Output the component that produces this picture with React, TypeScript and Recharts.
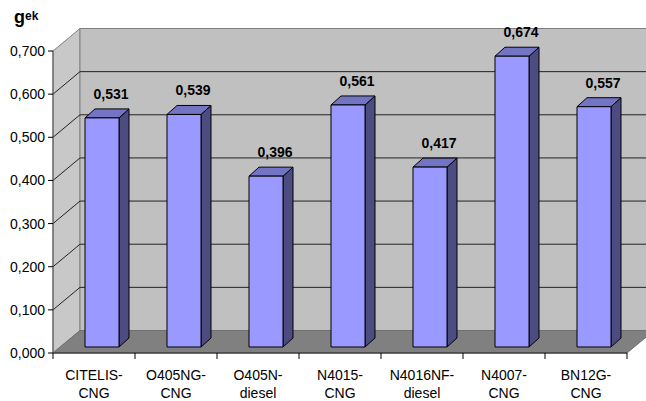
import React from 'react'
import { BarChart, Bar, XAxis, YAxis, LabelList } from 'recharts'

const categories = [
  'CITELIS-CNG',
  'O405NG-CNG',
  'O405N-diesel',
  'N4015-CNG',
  'N4016NF-diesel',
  'N4007-CNG',
  'BN12G-CNG',
]
const gekValues = [0.531, 0.539, 0.396, 0.561, 0.417, 0.674, 0.557]
const yTicks = [0, 0.1, 0.2, 0.3, 0.4, 0.5, 0.6, 0.7]

const data = categories.map((name, i) => ({ name, gek: gekValues[i] }))

// layout of the front plane of the 3d box
const W = 646
const H = 401
const LEFT = 53
const RIGHT = 627
const TOP = 51
const BOTTOM = 353
const DX = 27
const DY = -22.5
const BAND = (RIGHT - LEFT) / categories.length

// bars sit a bit into the box
const BAR_DX = 8
const BAR_DY = -6
const BAR_DEPTH_X = 10
const BAR_DEPTH_Y = -9

const FONT = '"Liberation Sans", Arial, sans-serif'
const fmt = (v: number) => v.toFixed(3).replace('.', ',')
const yAt = (v: number) => BOTTOM - (v / 0.7) * (BOTTOM - TOP)

function Box() {
  const grid = yTicks.filter((t) => t > 0 && t < 0.7)
  return (
    <svg width={W} height={H} style={{ position: 'absolute', left: 0, top: 0 }}>
      <polygon
        points={`${LEFT},${BOTTOM} ${LEFT},${TOP} ${LEFT + DX},${TOP + DY} ${LEFT + DX},${BOTTOM + DY}`}
        fill="#c8c8c8"
        stroke="#808080"
      />
      <rect
        x={LEFT + DX}
        y={TOP + DY}
        width={RIGHT - LEFT + 10}
        height={BOTTOM - TOP}
        fill="#c0c0c0"
        stroke="#808080"
      />
      {grid.map((t) => (
        <g key={t}>
          <line x1={LEFT + DX} x2={W} y1={yAt(t) + DY} y2={yAt(t) + DY} stroke="#222" />
          <line x1={LEFT} x2={LEFT + DX} y1={yAt(t)} y2={yAt(t) + DY} stroke="#222" />
        </g>
      ))}
      <polygon
        points={`${LEFT},${BOTTOM} ${RIGHT},${BOTTOM} ${RIGHT + DX},${BOTTOM + DY} ${LEFT + DX},${BOTTOM + DY}`}
        fill="#808080"
        stroke="#707070"
      />
      <text x={14} fontFamily={FONT} fontWeight="bold" fill="#000">
        <tspan y={22.5} fontSize={18}>g</tspan>
        <tspan y={20} fontSize={12}>ek</tspan>
      </text>
    </svg>
  )
}

function Bar3D(props: any) {
  const { x, y, width, height } = props
  if (height <= 0) return null
  const fx = x + BAR_DX
  const fy = y + BAR_DY
  const dx = BAR_DEPTH_X
  const dy = BAR_DEPTH_Y
  return (
    <g stroke="#000" strokeWidth={1} strokeLinejoin="round">
      <polygon
        points={`${fx + width},${fy} ${fx + width + dx},${fy + dy} ${fx + width + dx},${fy + height + dy} ${fx + width},${fy + height}`}
        fill="#4c4c80"
      />
      <polygon
        points={`${fx},${fy} ${fx + dx},${fy + dy} ${fx + width + dx},${fy + dy} ${fx + width},${fy}`}
        fill="#7474c4"
      />
      <rect x={fx} y={fy} width={width} height={height} fill="#9999ff" />
    </g>
  )
}

function ValueLabel(props: any) {
  const { x, y, width, value } = props
  return (
    <text
      x={x + width / 2 + 17}
      y={y - 25}
      textAnchor="middle"
      fontFamily={FONT}
      fontSize={14}
      fontWeight="bold"
      fill="#000"
    >
      {fmt(value)}
    </text>
  )
}

function CategoryTick(props: any) {
  const { x, payload, index } = props
  const name: string = payload.value
  const cut = name.indexOf('-') + 1
  const first = name.slice(0, cut)
  const second = name.slice(cut)
  const last = index === categories.length - 1
  return (
    <g>
      <line x1={x - BAND / 2} x2={x - BAND / 2} y1={BOTTOM} y2={BOTTOM + 6} stroke="#000" />
      {last && <line x1={x + BAND / 2} x2={x + BAND / 2} y1={BOTTOM} y2={BOTTOM + 6} stroke="#000" />}
      <text textAnchor="middle" fontFamily={FONT} fontSize={14} fill="#000">
        <tspan x={x} y={380}>{first}</tspan>
        <tspan x={x} y={398}>{second}</tspan>
      </text>
    </g>
  )
}

export default function App() {
  return (
    <div style={{ position: 'absolute', left: 0, top: 0, width: W, height: H, background: '#fff' }}>
      <Box />
      <div style={{ position: 'absolute', left: 0, top: 0 }}>
        <BarChart
          width={W}
          height={H}
          data={data}
          margin={{ top: TOP, right: W - RIGHT, bottom: 0, left: 0 }}
        >
          <XAxis
            dataKey="name"
            interval={0}
            tickLine={false}
            axisLine={{ stroke: '#222' }}
            tick={<CategoryTick />}
            height={H - BOTTOM}
          />
          <YAxis
            width={LEFT}
            domain={[0, 0.7]}
            ticks={yTicks}
            tickFormatter={fmt}
            tickSize={5}
            tickMargin={3}
            axisLine={{ stroke: '#555' }}
            tickLine={{ stroke: '#000' }}
            tick={{ fontFamily: FONT, fontSize: 14, fill: '#000' }}
          />
          <Bar dataKey="gek" barSize={34} shape={<Bar3D />} isAnimationActive={false}>
            <LabelList dataKey="gek" content={<ValueLabel />} />
          </Bar>
        </BarChart>
      </div>
    </div>
  )
}
